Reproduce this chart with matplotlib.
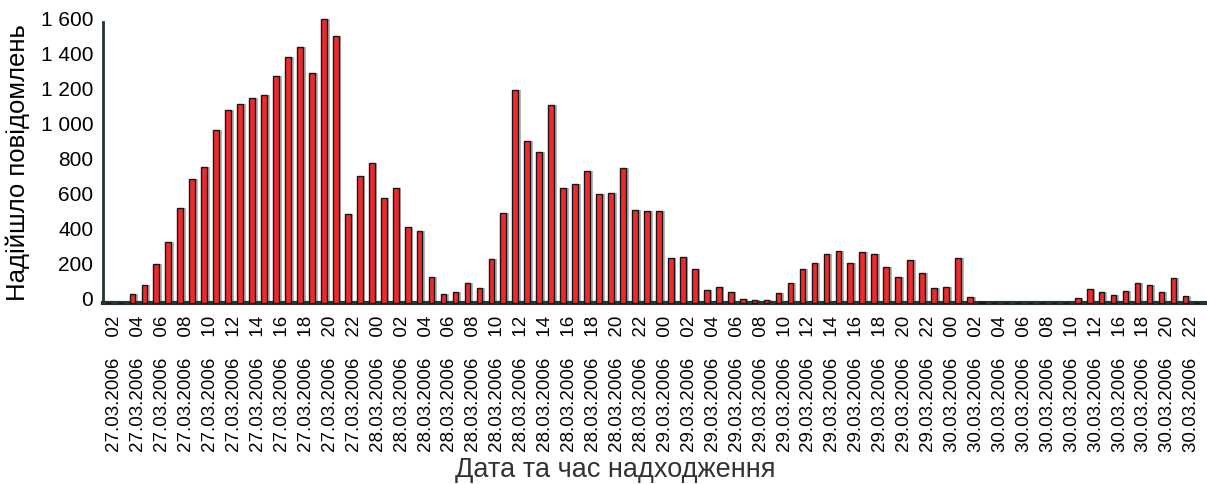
import matplotlib
matplotlib.use("Agg")
import matplotlib.pyplot as plt
import matplotlib.transforms as mtrans
import numpy as np

plt.rcParams['font.family'] = ['Liberation Sans', 'DejaVu Sans']

# hourly message counts, 27.03.2006 02h .. 30.03.2006 23h (30.03 14-15h not present)
values = [0, 0, 53, 102, 222, 346, 543, 704, 776, 983, 1097, 1133, 1166, 1186,
          1294, 1399, 1456, 1312, 1616, 1522, 505, 725,
          797, 600, 653, 435, 412, 146, 53, 63, 112, 87, 249, 514,
          1213, 924, 858, 1128, 657, 679, 752, 622, 626, 767, 528, 524,
          526, 255, 264, 194, 74, 93, 63, 25, 17, 15, 55, 112,
          195, 226, 277, 296, 226, 292, 277, 207, 146, 245, 169, 85,
          91, 256, 32, 3, 0, 0, 0, 0, 0, 0, 0, 27, 78, 64,
          46, 68, 116, 103, 64, 144, 40, 0]

# tick labels (one per pair of hours)
hours_27 = ["02", "04", "06", "08", "10", "12", "14", "16", "18", "20", "22"]
hours_28 = ["00", "02", "04", "06", "08", "10", "12", "14", "16", "18", "20", "22"]
hours_29 = ["00", "02", "04", "06", "08", "10", "12", "14", "16", "18", "20", "22"]
hours_30 = ["00", "02", "04", "06", "08", "10", "12", "16", "18", "20", "22"]
days = [("27.03.2006", hours_27), ("28.03.2006", hours_28),
        ("29.03.2006", hours_29), ("30.03.2006", hours_30)]

ytick_vals = [0, 200, 400, 600, 800, 1000, 1200, 1400, 1600]
ytick_labels = ["0", "200", "400", "600", "800", "1 000", "1 200", "1 400", "1 600"]

tick_labels = []
for d, hrs in days:
    for h in hrs:
        tick_labels.append(d + "    " + h)

x = np.arange(len(values))

fig = plt.figure(figsize=(12.07, 4.84), dpi=100)
ax = fig.add_axes([103 / 1207, 1 - 303 / 484, (1205 - 103) / 1207, (303 - 22) / 484])

# grey shadow on the right, then red body with dark edge
ax.bar(x + 0.14, values, width=0.58, color='#b4b4b4', clip_on=False, zorder=2)
ax.bar(x - 0.04, values, width=0.48, color='#ee2a2e', edgecolor='#161616',
       linewidth=1.0, clip_on=False, zorder=3)

ax.set_xlim(-0.5, 91.6)
ax.set_ylim(0, 1600)

ax.set_xticks(np.arange(0.5, len(values), 2))
ax.set_xticklabels(tick_labels, rotation=90, fontsize=13.5, color='black')
ax.set_yticks(ytick_vals)
ax.set_yticklabels(ytick_labels, fontsize=15, color='black')
ax.tick_params(axis='both', length=0)
ax.tick_params(axis='x', pad=9)
ax.tick_params(axis='y', pad=7)

# lift the y labels a little, like the reference
shift = mtrans.ScaledTranslation(0, 4 / 100, fig.dpi_scale_trans)
for lab in ax.get_yticklabels():
    lab.set_transform(lab.get_transform() + shift)

for s in ['top', 'right']:
    ax.spines[s].set_visible(False)
ax.spines['left'].set_color('#263434')
ax.spines['left'].set_linewidth(2)
ax.spines['bottom'].set_color('#263434')
ax.spines['bottom'].set_linewidth(3)

ax.set_ylabel("Надійшло повідомлень", fontsize=18.5, color='black', labelpad=8)
fig.text(615 / 1207, 1 - 470 / 484, "Дата та час надходження", fontsize=19.5,
         color='#333333', ha='center', va='center')

fig.savefig("out.png", dpi=100)
